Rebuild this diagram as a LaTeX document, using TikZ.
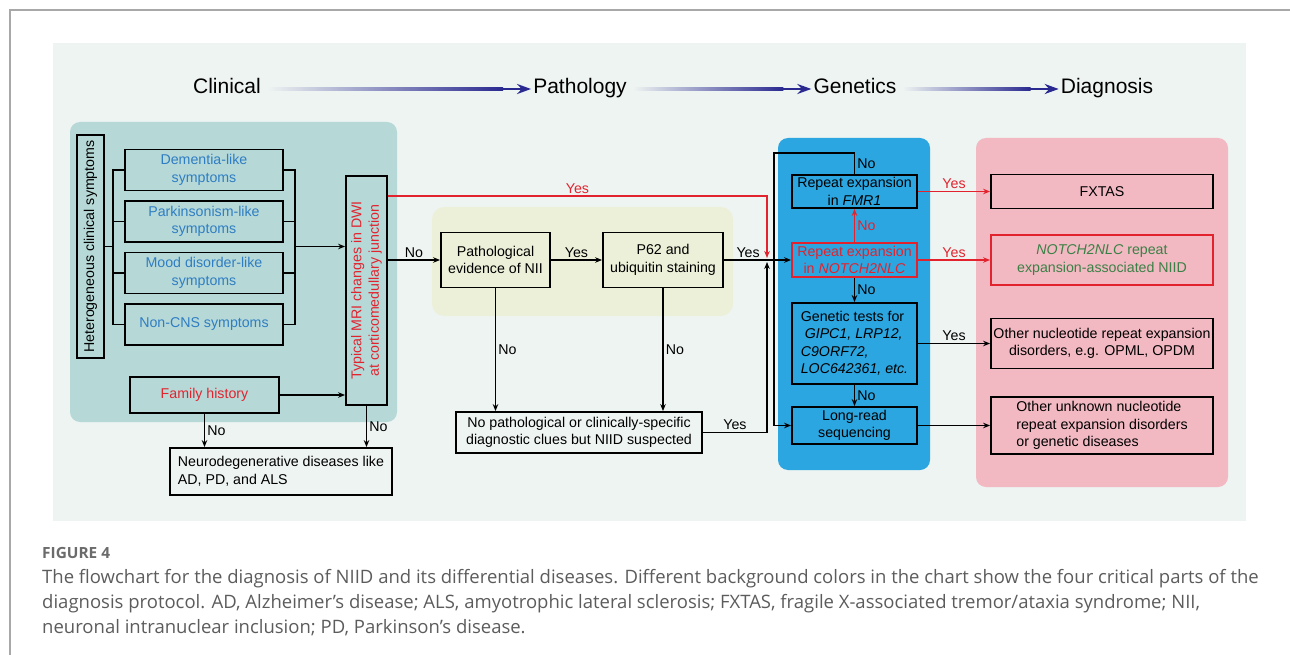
\documentclass[tikz,border=0pt]{standalone}
\usepackage{fontspec}
\setmainfont{Liberation Sans}
\newfontfamily\capfont{Open Sans}
\usetikzlibrary{arrows.meta,calc}
\definecolor{pagebg}{HTML}{EEF4F2}
\definecolor{framegray}{HTML}{A8A8A8}
\definecolor{clinbg}{HTML}{B6D9D8}
\definecolor{pathbg}{HTML}{EDF0D8}
\definecolor{genbg}{HTML}{2BA6E1}
\definecolor{diagbg}{HTML}{F3B9C2}
\definecolor{hdrblue}{HTML}{2A2990}
\definecolor{symblue}{HTML}{2F7DC2}
\definecolor{alertred}{HTML}{E2232E}
\definecolor{niidgreen}{HTML}{3A8046}
\definecolor{capgray}{HTML}{5C5C5C}

\begin{document}
\begin{tikzpicture}[x=1pt,y=-1pt,
  >={Stealth[length=7pt,width=5.5pt]},
  box/.style={draw,line width=1.8pt,inner sep=0pt,align=center,font=\fontsize{14.2}{17.5}\selectfont},
  lbl/.style={font=\fontsize{14.2}{17}\selectfont,inner sep=2pt},
  hdr/.style={font=\fontsize{21}{24}\selectfont,inner sep=0pt,text height=15pt,text depth=5pt},
  conn/.style={line width=1.5pt},
  capline/.style={anchor=base west,inner sep=0pt,text=capgray,font=\capfont\fontsize{18.5}{22}\selectfont}]

\useasboundingbox (0,0) rectangle (1290,655);
\draw[framegray,line width=2pt] (10,655) -- (10,10) -- (1290,10);

% backgrounds
\fill[pagebg] (53,43) rectangle (1246,521);
\fill[clinbg,rounded corners=10pt] (70,122) rectangle (397,422);
\fill[pathbg,rounded corners=12pt] (432,207) rectangle (733,316);
\fill[genbg,rounded corners=10pt] (778,138) rectangle (930,470);
\fill[diagbg,rounded corners=10pt] (976,138) rectangle (1228,487);

% header
\node[hdr] (clin) at (227,89) {Clinical};
\node[hdr] (patho) at (580,89) {Pathology};
\node[hdr] (genet) at (855,89) {Genetics};
\node[hdr] (diagn) at (1107,89) {Diagnosis};
\foreach \a/\b in {clin/patho,patho/genet,genet/diagn}{
  \shade[left color=pagebg,right color=hdrblue] ($(\a.east)+(6,-1.4)$) rectangle ($(\b.west)+(-30,1.4)$);
  \fill[hdrblue] ($(\b.west)+(-30,-1.4)$) rectangle ($(\b.west)+(-14,1.4)$);
  \draw[hdrblue,line width=2.8pt,-{Stealth[length=14pt,width=10pt]}] ($(\b.west)+(-16,0)$) -- ($(\b.west)+(-2,0)$);
}

% clinical
\node[box,rotate=90,minimum width=223,minimum height=27] (het) at (90.5,246.5) {Heterogeneous clinical symptoms};
\node[box,text=symblue,minimum width=158,minimum height=41] (dem) at (204,170) {Dementia-like\\symptoms};
\node[box,text=symblue,minimum width=158,minimum height=41] (park) at (204,221.5) {Parkinsonism-like\\symptoms};
\node[box,text=symblue,minimum width=158,minimum height=41] (mood) at (204,273) {Mood disorder-like\\symptoms};
\node[box,text=symblue,minimum width=158,minimum height=41] (noncns) at (204,324.5) {Non-CNS symptoms};
\node[box,text=alertred,minimum width=149,minimum height=36] (fam) at (204.5,395) {Family history};
\node[box,text=alertred,rotate=90,minimum width=229,minimum height=41] (mri) at (366.5,290.5) {Typical MRI changes in DWI\\at corticomedullary junction};
\node[box,align=left,minimum width=222,minimum height=47] (nd) at (281,471.5) {Neurodegenerative diseases like\\AD, PD, and ALS};

\coordinate (lbr) at (113,0);
\coordinate (rbr) at (295,0);
\draw[conn] (dem.west) -- (dem.west -| lbr) -- (noncns.west -| lbr) -- (noncns.west);
\draw[conn] (dem.east) -- (dem.east -| rbr) -- (noncns.east -| rbr) -- (noncns.east);
\foreach \s in {park,mood}{
  \draw[conn] (\s.west) -- (\s.west -| lbr);
  \draw[conn] (\s.east) -- (\s.east -| rbr);
}
\draw[conn] (het.south) -- (het.south -| lbr);
\draw[conn,->] (het.south -| rbr) -- (het.south -| mri.north);
\draw[conn,->] (fam.east) -- (fam.east -| mri.north);
\draw[conn,->] (fam.south) -- (fam.south |- nd.north) node[lbl,midway,right] {No};
\draw[conn,->] (mri.west) -- (mri.west |- nd.north) node[lbl,midway,right] {No};

% pathology
\node[box,minimum width=109,minimum height=55] (pathev) at (495.5,260) {Pathological\\evidence of NII};
\node[box,minimum width=120,minimum height=55] (p62) at (663,260) {P62 and\\ubiquitin staining};
\node[box,minimum width=246,minimum height=41] (noclue) at (579,432.5) {No pathological or clinically-specific\\diagnostic clues but NIID suspected};

\draw[conn,->] (mri.south |- pathev.west) -- (pathev.west) node[lbl,midway,above] {No};
\draw[conn,->] (pathev.east) -- (p62.west) node[lbl,midway,above] {Yes};
\draw[conn,->] (pathev.south) -- (pathev.south |- noclue.north) node[lbl,midway,right] {No};
\draw[conn,->] (p62.south) -- (p62.south |- noclue.north) node[lbl,midway,right] {No};

% genetics
\node[box,minimum width=125,minimum height=33] (fmr) at (854.5,191.5) {Repeat expansion\\in \textit{FMR1}};
\node[box,draw=alertred,text=alertred,minimum width=125,minimum height=34] (notch) at (854.5,260) {Repeat expansion\\in \textit{NOTCH2NLC}};
\node[box,align=left,minimum width=125,minimum height=81] (gentest) at (854.5,343.5) {Genetic tests for\\\ \textit{GIPC1, LRP12,}\\\textit{C9ORF72,}\\\textit{LOC642361, etc.}};
\node[box,minimum width=125,minimum height=37] (longread) at (854.5,425.5) {Long-read\\sequencing};

\coordinate (redjn) at (767,258);
\coordinate (blkjn) at (767,262);
\coordinate (redy) at (0,196);
\coordinate (loop) at (774,153);
\draw[conn,alertred,->] (mri.south |- redy) -| (redjn) node[lbl,pos=0.25,above] {Yes};
\draw[conn,->] (p62.east) -- (notch.west) node[lbl,pos=0.36,above] {Yes};
\draw[conn,->] (noclue.east) -| (blkjn) node[lbl,pos=0.25,above] {Yes};
\draw[conn,alertred,->] (notch.north) -- (fmr.south) node[lbl,midway,right] {No};
\draw[conn,->] (notch.south) -- (gentest.north) node[lbl,midway,right] {No};
\draw[conn,->] (gentest.south) -- (longread.north) node[lbl,midway,right] {No};
\draw[conn,->] (fmr.north) -- (fmr.north |- loop) node[lbl,midway,right] {No} -- (loop) -- (loop |- longread.west) -- (longread.west);

% diagnosis
\node[box,minimum width=222,minimum height=34] (fxtas) at (1102,191.5) {FXTAS};
\node[box,draw=alertred,text=niidgreen,minimum width=222,minimum height=50] (niid) at (1102,260) {\textit{NOTCH2NLC} repeat\\expansion-associated NIID};
\node[box,minimum width=222,minimum height=50] (othrep) at (1102,343.5) {Other nucleotide repeat expansion\\disorders, e.g. OPML, OPDM};
\node[box,align=left,minimum width=222,minimum height=57] (unknown) at (1102,425.5) {Other unknown nucleotide\\repeat expansion disorders\\or genetic diseases};

\draw[conn,alertred,->] (fmr.east) -- (fxtas.west) node[lbl,midway,above] {Yes};
\draw[conn,alertred,->] (notch.east) -- (niid.west) node[lbl,midway,above] {Yes};
\draw[conn,->] (gentest.east) -- (othrep.west) node[lbl,midway,above] {Yes};
\draw[conn,->] (longread.east) -- (unknown.west);

% caption
\node[capline,font=\capfont\bfseries\fontsize{15.4}{18}\selectfont,text=black!58] (fig) at (42,558) {FIGURE 4};
\node[capline] (cap1) at (42,583) {The flowchart for the diagnosis of NIID and its differential diseases. Different background colors in the chart show the four critical parts of the};
\node[capline] (cap2) at (42,608) {diagnosis protocol. AD, Alzheimer’s disease; ALS, amyotrophic lateral sclerosis; FXTAS, fragile X-associated tremor/ataxia syndrome; NII,};
\node[capline] (cap3) at (42,633) {neuronal intranuclear inclusion; PD, Parkinson’s disease.};
\end{tikzpicture}
\end{document}
